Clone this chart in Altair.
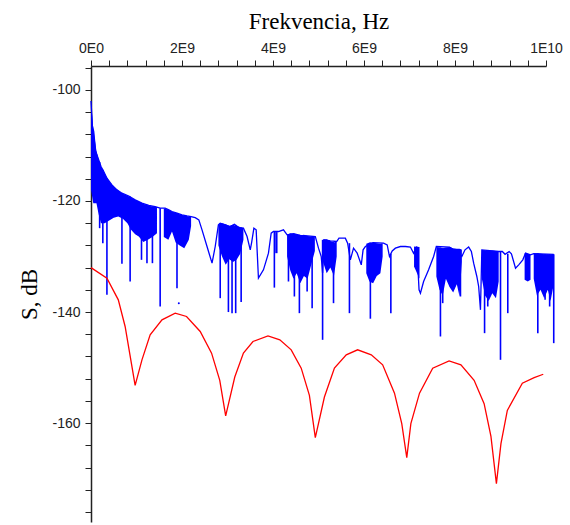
import altair as alt
import pandas as pd

# Frequencies are given in GHz (×1e9 Hz), levels in dB
red_f = [0.00, 0.35, 0.60, 0.75, 0.97, 1.12, 1.30, 1.56, 1.85, 2.10, 2.40, 2.65, 2.83, 2.96,
         3.16, 3.35, 3.56, 3.89, 4.15, 4.40, 4.62, 4.80, 4.93, 5.13, 5.35, 5.61, 5.86, 6.16,
         6.41, 6.67, 6.83, 6.94, 7.03, 7.22, 7.51, 7.87, 8.13, 8.42, 8.64, 8.79, 8.91, 9.01,
         9.15, 9.48, 9.74, 9.94]
red_s = [-132.0, -133.9, -137.8, -142.6, -153.2, -148.6, -144.1, -141.4, -140.2, -140.8,
         -143.5, -147.4, -152.3, -158.7, -151.7, -147.4, -145.3, -144.3, -145.0, -146.8,
         -150.1, -155.0, -162.6, -155.3, -150.1, -147.7, -146.8, -147.7, -149.5, -154.6,
         -160.1, -166.2, -160.1, -154.6, -150.1, -148.8, -149.5, -152.3, -156.5, -162.4,
         -170.9, -163.7, -157.7, -152.8, -151.8, -151.2]

blue_f = [0.00, 0.03, 0.06, 0.10, 0.17, 0.22, 0.28, 0.35, 0.46, 0.57, 0.68, 0.83, 0.97, 1.12,
          1.27, 1.41, 1.52, 1.63, 1.71, 1.78, 1.89, 2.00, 2.11, 2.20, 2.29, 2.37, 2.44, 2.55,
          2.66, 2.73, 2.80, 2.84, 2.95, 3.06, 3.15, 3.25, 3.35, 3.43, 3.50, 3.53, 3.58, 3.63,
          3.68, 3.79, 3.90, 3.96, 4.01, 4.12, 4.23, 4.31, 4.45, 4.60, 4.76, 4.93, 5.00, 5.06,
          5.09, 5.12, 5.26, 5.40, 5.45, 5.59, 5.64, 5.70, 5.77, 5.85, 5.94, 5.98, 6.03, 6.20,
          6.43, 6.51, 6.56, 6.62, 6.69, 6.80, 6.91, 7.02, 7.09, 7.16, 7.21, 7.24, 7.31, 7.42,
          7.53, 7.59, 7.88, 8.15, 8.22, 8.30, 8.36, 8.41, 8.48, 8.52, 8.56, 8.59, 8.96, 9.04,
          9.10, 9.19, 9.24, 9.33, 9.40, 9.49, 9.55, 9.66, 9.73, 10.17]
blue_s = [-102.0, -106.5, -107.5, -111.0, -112.6, -113.8, -114.7, -115.9, -117.1, -118.0,
          -118.6, -119.1, -119.8, -120.4, -120.8, -121.0, -121.3, -121.3, -121.6, -121.9,
          -122.2, -122.5, -122.7, -122.8, -123.0, -123.4, -125.2, -128.2, -131.2, -128.2,
          -124.3, -124.0, -124.3, -124.6, -124.2, -124.8, -124.9, -126.4, -128.8, -127.5,
          -124.9, -125.2, -133.9, -132.4, -129.4, -125.8, -125.5, -125.5, -125.2, -126.1,
          -125.9, -126.2, -126.3, -126.4, -128.5, -130.0, -133.0, -127.0, -127.2, -127.3,
          -126.7, -126.7, -127.6, -130.6, -128.5, -129.4, -131.5, -128.8, -128.2, -127.5,
          -127.6, -127.9, -130.0, -129.0, -128.5, -128.2, -128.2, -128.3, -129.4, -128.2,
          -136.0, -136.6, -134.5, -132.4, -130.0, -128.2, -128.3, -130.0, -128.8, -128.3,
          -129.1, -131.2, -133.6, -135.4, -139.6, -128.8, -129.1, -129.1, -129.6, -129.1,
          -129.5, -132.1, -131.5, -130.6, -129.4, -129.7, -129.5, -129.6]

# densely oscillating stretches of the blue trace: upper and lower envelopes
band_seg = [0]*18 + [1]*8 + [2]*8 + [3]*2 + [4]*9 + [5]*5 + [6]*6 + [7]*2 + [8]*9 + [9]*6 + [10]*3 + [11]*7
band_f = [0.00, 0.05, 0.12, 0.17, 0.22, 0.30, 0.40, 0.50, 0.60, 0.70, 0.80, 0.88, 0.97, 1.05, 1.15, 1.25, 1.35, 1.45,
          1.60, 1.70, 1.78, 1.86, 1.95, 2.05, 2.15, 2.20,
          2.80, 2.88, 2.96, 3.04, 3.12, 3.20, 3.28, 3.35,
          4.05, 4.10,
          4.31, 4.38, 4.45, 4.52, 4.60, 4.68, 4.76, 4.84, 4.92,
          5.10, 5.18, 5.26, 5.34, 5.40,
          6.05, 6.12, 6.20, 6.28, 6.36, 6.41,
          7.10, 7.22,
          7.59, 7.66, 7.73, 7.80, 7.88, 7.96, 8.04, 8.10, 8.15,
          8.59, 8.66, 8.74, 8.82, 8.90, 8.96,
          9.53, 9.60, 9.66,
          9.73, 9.80, 9.88, 9.96, 10.04, 10.10, 10.17]
band_hi = [-102.0, -107.0, -111.0, -112.6, -113.8, -115.0, -116.5, -117.4, -118.1, -118.7, -119.0, -119.4, -119.8, -120.1, -120.5, -120.8, -121.0, -121.1,
           -121.3, -121.6, -121.9, -122.1, -122.4, -122.6, -122.8, -122.8,
           -124.3, -124.0, -124.2, -124.5, -124.3, -124.5, -124.7, -124.9,
           -125.6, -125.6,
           -126.1, -125.8, -125.9, -126.0, -126.2, -126.1, -126.3, -126.4, -126.4,
           -127.0, -126.9, -127.2, -127.5, -127.3,
           -127.7, -127.5, -127.5, -127.6, -127.7, -127.6,
           -128.2, -128.3,
           -128.3, -128.4, -128.5, -128.4, -128.3, -128.5, -128.6, -128.6, -128.8,
           -128.8, -128.9, -129.0, -128.9, -129.0, -129.1,
           -129.4, -129.5, -129.7,
           -129.5, -129.4, -129.5, -129.6, -129.6, -129.7, -129.6]
band_lo = [-118.0, -120.4, -120.4, -122.5, -124.0, -124.0, -123.5, -123.0, -122.8, -123.2, -124.0, -125.2, -126.0, -126.4, -127.4, -127.0, -126.5, -125.8,
           -126.5, -127.0, -125.5, -127.5, -128.0, -128.5, -127.0, -124.5,
           -128.0, -130.0, -131.5, -130.5, -131.0, -130.6, -129.5, -127.0,
           -129.4, -129.4,
           -130.0, -132.5, -134.0, -133.0, -134.8, -133.5, -134.0, -131.5, -129.0,
           -131.0, -133.0, -132.0, -133.5, -130.0,
           -133.0, -134.5, -134.8, -133.5, -133.0, -130.0,
           -131.8, -134.0,
           -133.6, -136.0, -137.0, -134.0, -135.5, -136.5, -135.0, -137.2, -131.0,
           -134.0, -137.0, -138.0, -136.6, -137.5, -134.5,
           -134.2, -134.5, -134.2,
           -134.0, -137.0, -136.0, -137.5, -136.0, -138.0, -135.0]

# isolated deep dips of the blue trace
spike_f = [0.19, 0.26, 0.35, 0.68, 0.86, 1.11, 1.23, 1.35, 1.52, 1.89, 2.84, 3.02, 3.10, 3.18,
           3.30, 4.03, 4.34, 4.47, 4.58, 4.75, 4.86, 5.09, 5.33, 5.68, 6.14, 6.59, 7.68, 7.73,
           7.90, 8.12, 8.65, 8.72, 9.00, 9.16, 9.82, 9.98, 10.08, 10.17]
spike_top = [-113.0, -114.4, -115.9, -118.6, -119.2, -120.4, -120.7, -121.0, -121.3, -122.2,
             -124.0, -124.5, -124.4, -124.3, -124.8, -125.5, -126.0, -125.9, -126.1, -126.3,
             -126.4, -127.0, -127.4, -127.6, -127.5, -129.5, -128.4, -128.5, -128.3, -128.7,
             -128.9, -129.0, -129.1, -129.5, -129.4, -129.6, -129.6, -129.6]
spike_bot = [-124.9, -127.6, -136.9, -131.3, -134.5, -130.6, -131.2, -131.2, -139.0, -135.7,
             -137.5, -140.0, -140.2, -140.2, -138.2, -135.6, -134.5, -137.2, -140.2, -136.3,
             -139.3, -145.0, -138.4, -140.2, -141.2, -140.2, -144.4, -138.4, -135.4, -137.2,
             -143.8, -139.0, -148.6, -140.2, -143.8, -137.8, -139.0, -145.6]

dot_f = [1.93]
dot_s = [-138.4]

x_tick_labels = ["0E0", "2E9", "4E9", "6E9", "8E9", "1E10"]
x_minor_step = 0.4   # GHz between ticks
y_tick_step = 4      # dB between ticks

G = 1e9
red_df = pd.DataFrame({"f": [v * G for v in red_f], "s": red_s})
blue_df = pd.DataFrame({"f": [v * G for v in blue_f], "s": blue_s})
band_df = pd.DataFrame({"seg": band_seg, "f": [v * G for v in band_f], "hi": band_hi, "lo": band_lo})
spike_df = pd.DataFrame({"f": [v * G for v in spike_f], "top": spike_top, "bot": spike_bot})
dot_df = pd.DataFrame({"f": [v * G for v in dot_f], "s": dot_s})

x_vals = [round(i * x_minor_step * G) for i in range(26)]
y_vals = list(range(-176, -95, y_tick_step))

label_arr = "[" + ",".join("'%s'" % t for t in x_tick_labels) + "]"
x_label_expr = "round(datum.value/4e8) % 5 == 0 ? " + label_arr + "[round(datum.value/2e9)] : ''"

x_scale = alt.Scale(domain=[0, 1e10], nice=False, zero=False)
y_scale = alt.Scale(domain=[-177.8, -95.7], nice=False, zero=False)

x_axis = alt.Axis(orient="top", values=x_vals, tickCount=60, labelExpr=x_label_expr, grid=False,
                  title="Frekvencia, Hz", titleFont="Liberation Serif", titleFontSize=23,
                  titleFontWeight="normal", titleColor="black", titlePadding=8,
                  labelFont="Liberation Sans", labelFontSize=14, labelColor="#222",
                  labelFlush=False, labelOverlap=False, labelPadding=5,
                  tickSize=6, tickColor="#222", domainColor="#222", domainWidth=1.5)
y_axis = alt.Axis(values=y_vals, tickCount=60,
                  labelExpr="datum.value % 20 == 0 ? '' + datum.value : ''",
                  grid=False, title="S, dB", titleFont="Liberation Serif", titleFontSize=23,
                  titleFontWeight="normal", titleColor="black", titlePadding=10,
                  labelFont="Liberation Sans", labelFontSize=14, labelColor="#222",
                  labelOverlap=False, labelPadding=5,
                  tickSize=6, tickColor="#222", domainColor="#222", domainWidth=1.5)

band = alt.Chart(band_df).mark_area(color="#0000ff", opacity=1).encode(
    x=alt.X("f:Q", scale=x_scale, axis=x_axis),
    y=alt.Y("hi:Q", scale=y_scale, axis=y_axis),
    y2="lo:Q",
    detail="seg:N",
)
spikes = alt.Chart(spike_df).mark_rule(color="#0000ff", strokeWidth=1.6).encode(
    x=alt.X("f:Q", scale=x_scale),
    y=alt.Y("top:Q", scale=y_scale),
    y2="bot:Q",
)
blue = alt.Chart(blue_df).mark_line(color="#0000ff", strokeWidth=1.3).encode(
    x=alt.X("f:Q", scale=x_scale),
    y=alt.Y("s:Q", scale=y_scale),
    order="f:Q",
)
red = alt.Chart(red_df).mark_line(color="#ff0000", strokeWidth=1.3).encode(
    x=alt.X("f:Q", scale=x_scale),
    y=alt.Y("s:Q", scale=y_scale),
    order="f:Q",
)
dot = alt.Chart(dot_df).mark_point(color="#0000ff", filled=True, size=4, opacity=1).encode(
    x=alt.X("f:Q", scale=x_scale),
    y=alt.Y("s:Q", scale=y_scale),
)

chart = alt.layer(band, spikes, blue, red, dot).properties(
    width=455, height=456,
    autosize=alt.AutoSizeParams(type="none"),
    padding={"left": 91, "top": 66, "right": 24, "bottom": 3},
    background="white",
).configure_view(strokeWidth=0)

chart.save("out.html", embed_options={"renderer": "svg", "actions": False})
